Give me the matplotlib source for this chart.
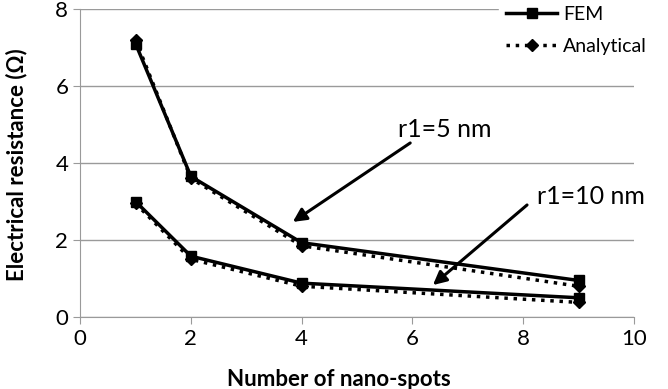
import matplotlib.pyplot as plt

plt.rcParams['font.family'] = ['Lato', 'DejaVu Sans']

spots = [1, 2, 4, 9]
fem_r5 = [7.1, 3.65, 1.93, 0.95]
ana_r5 = [7.2, 3.6, 1.85, 0.8]
fem_r10 = [3.0, 1.58, 0.88, 0.5]
ana_r10 = [2.95, 1.5, 0.8, 0.38]

fig = plt.figure(figsize=(6.68, 3.89), dpi=100)
ax = fig.add_axes([0.12, 0.185, 0.829, 0.792])

ax.plot(spots, ana_r5, color='black', linestyle=':', linewidth=2.5, marker='D', markersize=6, label='Analytical')
ax.plot(spots, ana_r10, color='black', linestyle=':', linewidth=2.5, marker='D', markersize=6)
ax.plot(spots, fem_r5, color='black', linewidth=2.5, marker='s', markersize=7.5, label='FEM')
ax.plot(spots, fem_r10, color='black', linewidth=2.5, marker='s', markersize=7.5)

# callouts
arrow = dict(arrowstyle='-|>', color='black', lw=2.2, mutation_scale=20, shrinkA=0, shrinkB=0)
ax.annotate('', xy=(3.84, 2.47), xytext=(5.96, 4.52), arrowprops=arrow)
ax.annotate('', xy=(6.37, 0.83), xytext=(8.07, 2.91), arrowprops=arrow)
ax.text(6.59, 4.86, 'r1=5 nm', fontsize=18, ha='center', va='center')
ax.text(9.22, 3.12, 'r1=10 nm', fontsize=18, ha='center', va='center')

ax.set_xlim(0, 10)
ax.set_ylim(0, 8)
ax.set_xticks(range(0, 11, 2))
ax.set_yticks(range(0, 9, 2))
ax.grid(axis='y', color='#9a9a9a', linewidth=1)
ax.set_axisbelow(True)
for s in ['top', 'right']:
    ax.spines[s].set_visible(False)
for s in ['left', 'bottom']:
    ax.spines[s].set_color('#9a9a9a')
ax.tick_params(colors='#9a9a9a', labelcolor='black', labelsize=16, length=5, direction='out')

ax.set_xlabel('Number of nano-spots', fontsize=16, fontweight='bold')
ax.set_ylabel('Electrical resistance (Ω)', fontsize=16, fontweight='bold')
ax.xaxis.set_label_coords(0.468, -0.168)
ax.yaxis.set_label_coords(-0.095, 0.494)

h, l = ax.get_legend_handles_labels()
leg = ax.legend(h[::-1], l[::-1], loc='upper right', bbox_to_anchor=(1.037, 1.035), frameon=True,
                fontsize=14, handlelength=2.6, handletextpad=0.3, borderaxespad=0, labelspacing=0.75)
leg.get_frame().set_edgecolor('white')
leg.get_frame().set_facecolor('white')
leg.get_frame().set_alpha(1)

plt.savefig('out.png', dpi=100)
